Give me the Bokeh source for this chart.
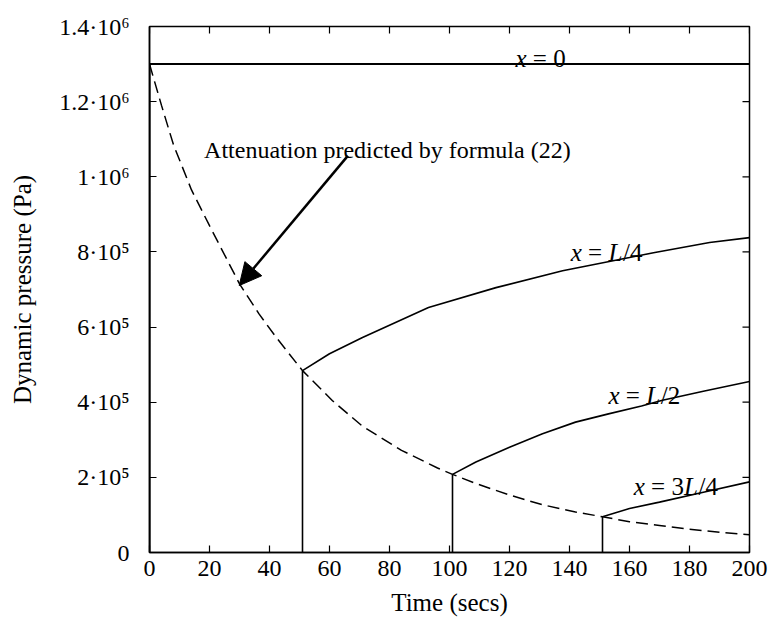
import math
from bokeh.plotting import figure
from bokeh.models import FixedTicker, Arrow, NormalHead
from bokeh.core.properties import value
from bokeh.embed import file_html
from bokeh.resources import INLINE

# ---- data ----
t_att = [0, 4, 8, 14, 20, 30, 36.5, 42, 51, 61, 71, 84, 96, 101, 109, 120, 131, 142,
         151, 160, 170, 180, 190, 200]
p_att = [1.3e6, 1.19e6, 1.085e6, 0.965e6, 0.87e6, 0.715e6, 0.635e6, 0.575e6, 0.484e6,
         0.404e6, 0.336e6, 0.272e6, 0.225e6, 0.208e6, 0.183e6, 0.153e6, 0.127e6,
         0.108e6, 0.095e6, 0.082e6, 0.072e6, 0.062e6, 0.054e6, 0.047e6]

t_x0 = [0, 0, 200]
p_x0 = [0, 1.3e6, 1.3e6]

t_L4 = [51, 51, 60, 71, 93, 115.5, 137.7, 160, 168, 186.7, 200]
p_L4 = [0, 0.484e6, 0.529e6, 0.572e6, 0.652e6, 0.705e6, 0.75e6, 0.785e6, 0.798e6,
        0.825e6, 0.838e6]

t_L2 = [101, 101, 108.8, 120, 131, 142, 153, 164, 171, 185, 200]
p_L2 = [0, 0.208e6, 0.241e6, 0.28e6, 0.316e6, 0.347e6, 0.369e6, 0.39e6, 0.405e6,
        0.43e6, 0.455e6]

t_3L4 = [151, 151, 160, 170, 185, 200]
p_3L4 = [0, 0.095e6, 0.117e6, 0.134e6, 0.161e6, 0.188e6]

x_ticks = [0, 20, 40, 60, 80, 100, 120, 140, 160, 180, 200]
y_ticks = [0, 2e5, 4e5, 6e5, 8e5, 1e6, 1.2e6, 1.4e6]
y_tick_labels = ["0", "2·10⁵", "4·10⁵", "6·10⁵", "8·10⁵", "1·10⁶", "1.2·10⁶", "1.4·10⁶"]

FONT = "Liberation Serif"
X_MAX = 200
Y_MAX = 1.4e6

p = figure(width=769, height=624, x_range=(0, X_MAX), y_range=(0, Y_MAX),
           output_backend="svg", toolbar_location=None,
           min_border_left=149, min_border_right=20, min_border_top=26,
           min_border_bottom=72)
p.grid.visible = False
p.outline_line_color = "black"
p.outline_line_width = 1.5
p.background_fill_color = "white"
p.border_fill_color = "white"

for ax in (p.xaxis[0], p.yaxis[0]):
    ax.major_tick_in = 7
    ax.major_tick_out = 0
    ax.minor_tick_in = 0
    ax.minor_tick_out = 0
    ax.axis_line_color = "black"
    ax.axis_line_width = 1.5
    ax.major_tick_line_color = "black"
    ax.major_tick_line_width = 1.2
    ax.major_label_text_font = FONT
    ax.major_label_text_font_size = "24px"
    ax.major_label_text_color = "black"
    ax.axis_label_text_font = FONT
    ax.axis_label_text_font_size = "25px"
    ax.axis_label_text_font_style = "normal"
    ax.axis_label_text_color = "black"

p.xaxis.ticker = FixedTicker(ticks=x_ticks)
p.yaxis.ticker = FixedTicker(ticks=y_ticks)
p.yaxis.major_label_overrides = {v: s for v, s in zip(y_ticks, y_tick_labels)}
p.xaxis.axis_label = "Time (secs)"
p.yaxis.axis_label = "Dynamic pressure (Pa)"
p.xaxis.major_label_standoff = 8
p.xaxis.axis_label_standoff = 10
p.yaxis.major_label_standoff = 20
p.yaxis.axis_label_standoff = 20

# inward ticks on the top and right frame edges
p.ray(x=x_ticks, y=[Y_MAX] * len(x_ticks), length=7, length_units="screen",
      angle=-math.pi / 2, line_color="black", line_width=1.2)
p.ray(x=[X_MAX] * len(y_ticks), y=y_ticks, length=7, length_units="screen",
      angle=math.pi, line_color="black", line_width=1.2)

# curves
p.line(t_att, p_att, line_color="black", line_width=1.5, line_dash="12 6")
p.line(t_x0, p_x0, line_color="black", line_width=2)
p.line(t_L4, p_L4, line_color="black", line_width=1.6)
p.line(t_L2, p_L2, line_color="black", line_width=1.6)
p.line(t_3L4, p_3L4, line_color="black", line_width=1.6)

# annotation text and arrow
p.text(x=[18.2], y=[1.0704e6], text=["Attenuation predicted by formula (22)"],
       text_font=value(FONT), text_font_size="24px", text_color="black",
       text_baseline="alphabetic", text_align="left")
p.add_layout(Arrow(end=NormalHead(size=22, fill_color="black", line_color="black"),
                   x_start=66.1, y_start=1.0557e6, x_end=29.9, y_end=0.7105e6,
                   line_color="black", line_width=2.5))

# curve labels with italic variables (offsets in em)
FS = 25

def math_label(x, y, pieces):
    for txt, ital, off in pieces:
        p.text(x=[x], y=[y], text=[txt], x_offset=off * FS,
               text_font=value(FONT), text_font_size=f"{FS}px",
               text_font_style="italic" if ital else "normal",
               text_color="black", text_baseline="alphabetic", text_align="left")

math_label(122, 1.316e6, [("x", True, 0), ("=", False, 0.694), ("0", False, 1.508)])
math_label(140.4, 0.7976e6, [("x", True, 0), ("=", False, 0.694), ("L", True, 1.508),
                             ("/4", False, 2.09)])
math_label(153, 0.4178e6, [("x", True, 0), ("=", False, 0.694), ("L", True, 1.508),
                           ("/2", False, 2.09)])
math_label(161.4, 0.176e6, [("x", True, 0), ("=", False, 0.694), ("3", False, 1.508),
                            ("L", True, 2.008), ("/4", False, 2.59)])

open("out.html", "w").write(file_html(p, INLINE))
